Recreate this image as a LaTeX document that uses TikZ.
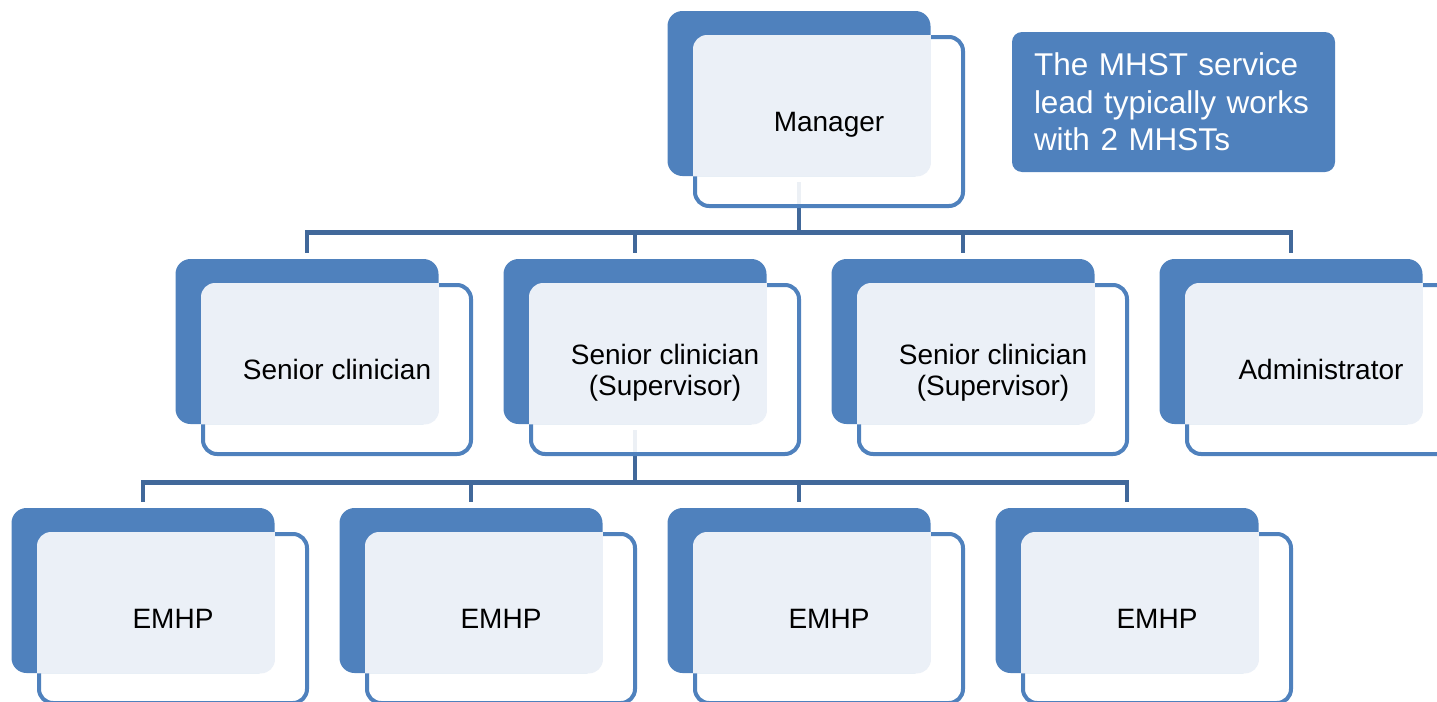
\documentclass[tikz,border=0pt]{standalone}
\usepackage{fontspec}
\setmainfont{Liberation Sans}
\usetikzlibrary{backgrounds}
\definecolor{unitblue}{HTML}{4F81BD}
\definecolor{panelblue}{HTML}{EBF0F7}
\definecolor{linkblue}{HTML}{41689A}

% one post: outlined box, filled box over it, light panel where they meet
\newcommand{\orgunit}[4]{%
  \coordinate (#1-c) at (#2,#3);
  \node[frontbox] (#1) at ([shift={(30,28)}]#1-c) {};
  \node[backbox] (#1-back) at (#1-c) {};
  \begin{scope}
    \clip[rounded corners=7pt] (#1-back.south west) rectangle (#1-back.north east);
    \fill[panelblue,rounded corners=7pt] (#1.south west) rectangle (#1.north east);
  \end{scope}
  \node[unittext] (#1-text) at (#1.center) {#4};
}

\begin{document}
\begin{tikzpicture}[x=0.5pt,y=-0.5pt]
\tikzset{backbox/.style={rectangle,rounded corners=7.5pt,fill=unitblue,minimum width=131.5pt,minimum height=82.5pt,inner sep=0pt}}
\tikzset{frontbox/.style={rectangle,rounded corners=7pt,draw=unitblue,line width=2pt,fill=white,fill opacity=0.9,minimum width=134pt,minimum height=84.5pt,inner sep=0pt}}
\tikzset{unittext/.style={align=center,font=\fontsize{14}{15.5}\selectfont,inner sep=0pt,text depth=0pt}}
\tikzset{link/.style={draw=linkblue,line width=2.3pt,shorten <=3pt,shorten >=3pt}}
\tikzset{notebox/.style={rectangle,rounded corners=5pt,fill=unitblue,text=white,align=left,text width=139.5pt,inner xsep=11pt,inner ysep=0pt,minimum height=70pt,font=\fontsize{15.75}{18.75}\selectfont}}

\useasboundingbox (0,0) rectangle (1437,702);
\clip (0,0) rectangle (1437,702);

\orgunit{mgr}{799}{93.5}{Manager}
\orgunit{sc}{307}{341.5}{Senior clinician}
\orgunit{supa}{635}{341.5}{Senior clinician\\(Supervisor)}
\orgunit{supb}{963}{341.5}{Senior clinician\\(Supervisor)}
\orgunit{admin}{1291}{341.5}{Administrator}
\foreach \n/\x in {1/143,2/471,3/799,4/1127}
  {\orgunit{emhp\n}{\x}{590.5}{EMHP}}

\node[notebox] (note) at (1173.5,102) {The MHST service\\lead typically works\\with 2 MHSTs};

\begin{scope}[on background layer]
\foreach \c in {sc,supa,supb,admin}
  \draw[link] (mgr-back.south) -- ++(0,56) -| (\c-back.north);
\foreach \n in {1,...,4}
  \draw[link] (supa-back.south) -- ++(0,58) -| (emhp\n-back.north);
\end{scope}
\end{tikzpicture}
\end{document}
